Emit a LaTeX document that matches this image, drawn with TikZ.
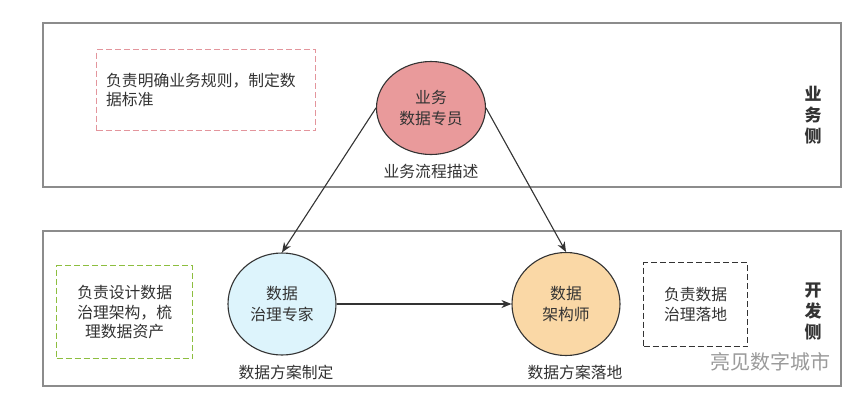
\documentclass[tikz,border=0pt]{standalone}
\usepackage{fontspec}
\setmainfont{Noto Sans CJK SC}
\usetikzlibrary{arrows.meta}
\definecolor{frame}{HTML}{8C8C8C}
\definecolor{txt}{HTML}{333333}
\definecolor{pinkfill}{HTML}{E99A9B}
\definecolor{bluefill}{HTML}{DDF4FC}
\definecolor{orangefill}{HTML}{FAD8A6}
\definecolor{pinkdash}{HTML}{E3959C}
\definecolor{greendash}{HTML}{8DBE3F}
\definecolor{wm}{HTML}{9A9A9A}
\tikzset{
  panel/.style={draw=frame, line width=1.4pt},
  role/.style={ellipse, draw=txt, line width=1.1pt, text=txt, align=center, inner sep=0pt,
    font=\fontsize{15.8}{21}\selectfont},
  note/.style={draw, dashed, dash pattern=on 6pt off 3pt, line width=1.3pt, text=txt,
    font=\fontsize{15.8}{19.5}\selectfont},
  caption/.style={text=txt, font=\fontsize{15.8}{19}\selectfont, inner sep=0pt},
  side/.style={text=txt, align=center, font=\fontsize{17}{21}\selectfont\bfseries, inner sep=0pt},
  flow/.style={draw=txt, line width=1.1pt, -{Stealth[length=10pt,width=8pt]}}
}
\usetikzlibrary{shapes.geometric}
\begin{document}
\begin{tikzpicture}[x=1pt,y=-1pt]
\useasboundingbox[fill=white] (0,0) rectangle (860,400);
% panels
\draw[panel] (43,23) rectangle (841,187);
\draw[panel] (43,231) rectangle (841,386);
% notes
\node[note, draw=pinkdash, minimum width=219pt, minimum height=81pt, anchor=north west,
  align=left, text width=200pt] (pnote) at (96,49) {负责明确业务规则，制定数\\据标准};
\node[note, draw=greendash, minimum width=136pt, minimum height=93pt, anchor=north west,
  align=center, text width=120pt] (gnote) at (56,265) {负责设计数据\\治理架构，梳\\理数据资产};
\node[note, draw=txt, minimum width=104pt, minimum height=84pt, anchor=north west,
  align=center, text width=95pt] (bnote) at (643,262) {负责数据\\治理落地};
% roles
\node[role, fill=pinkfill, minimum width=109pt, minimum height=93pt] (biz) at (431,108) {业务\\数据专员};
\node[role, fill=bluefill, minimum width=108pt, minimum height=102pt] (gov) at (282,304) {数据\\治理专家};
\node[role, fill=orangefill, minimum width=108pt, minimum height=103pt] (arch) at (566,304) {数据\\架构师};
% captions
\node[caption] (c1) at (431,171) {业务流程描述};
\node[caption] (c2) at (286,372) {数据方案制定};
\node[caption] (c3) at (575,372) {数据方案落地};
% side labels
\node[side] (s1) at (813,115) {业\\务\\侧};
\node[side] (s2) at (813,312) {开\\发\\侧};
% watermark
\node[text=wm, font=\fontsize{20}{22}\selectfont, inner sep=0pt] (wmk) at (770,362) {亮见数字城市};
% connectors
\draw[flow] (biz.west) -- (gov.north);
\draw[flow] (biz.east) -- (arch.north);
\draw[flow] (gov.east) -- (arch.west);
\end{tikzpicture}
\end{document}
